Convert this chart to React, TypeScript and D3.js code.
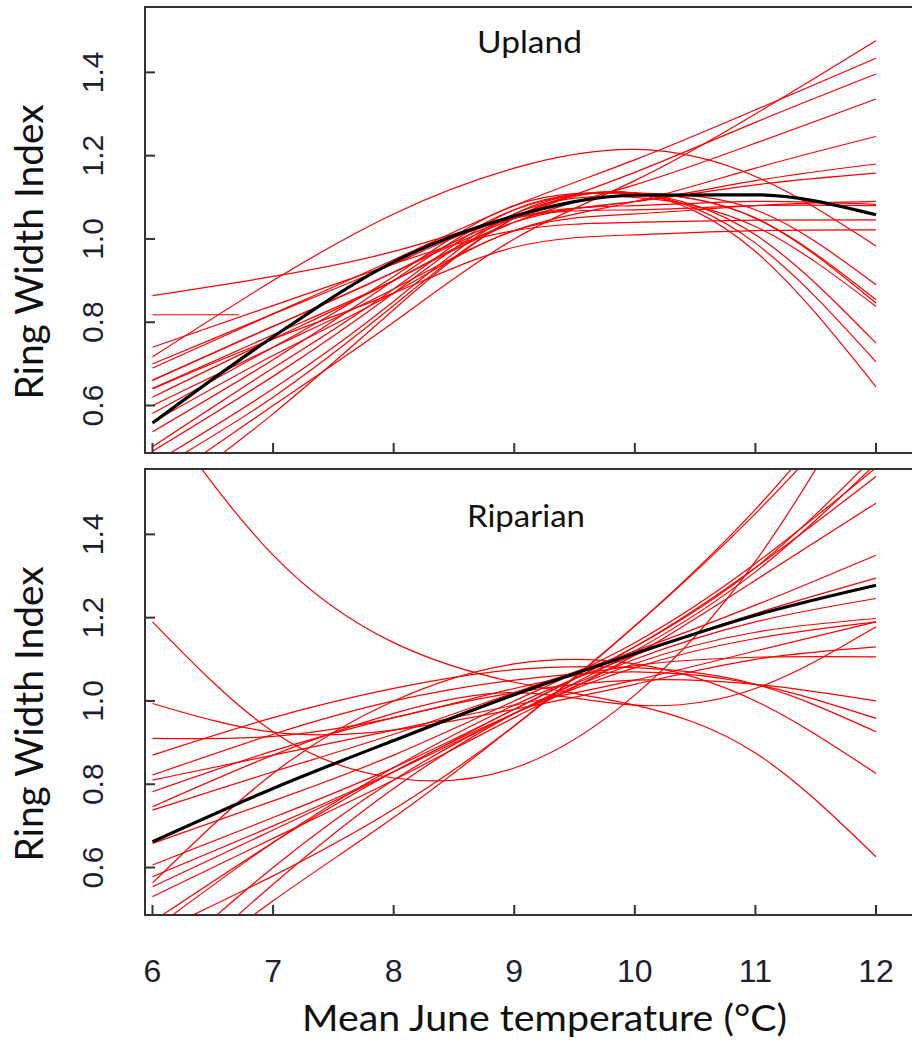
import React from 'react';
import * as d3 from 'd3';

// ---- data ----
const temps = [6, 7, 8, 9, 10, 11, 12];
const xTicks = [6, 7, 8, 9, 10, 11, 12];
const yTicks = [0.6, 0.8, 1.0, 1.2, 1.4];
const yTickLabels = ['0.6', '0.8', '1.0', '1.2', '1.4'];

// Upland individual tree response curves (values at 6..12 °C)
const uplandTrees: number[][] = [
  [0.40, 0.60, 0.80, 1.00, 1.14, 1.30, 1.476],
  [0.69, 0.82, 0.95, 1.08, 1.19, 1.31, 1.434],
  [0.661, 0.79, 0.92, 1.05, 1.16, 1.28, 1.396],
  [0.641, 0.77, 0.90, 1.04, 1.13, 1.23, 1.336],
  [0.60, 0.74, 0.88, 1.02, 1.09, 1.17, 1.246],
  [0.717, 0.90, 1.06, 1.17, 1.215, 1.15, 0.983],
  [0.864, 0.91, 0.97, 1.05, 1.09, 1.14, 1.18],
  [0.62, 0.76, 0.90, 1.04, 1.09, 1.13, 1.158],
  [0.56, 0.72, 0.87, 1.02, 1.06, 1.08, 1.09],
  [0.66, 0.79, 0.92, 1.05, 1.08, 1.09, 1.083],
  [0.70, 0.82, 0.94, 1.05, 1.07, 1.08, 1.08],
  [0.74, 0.84, 0.94, 1.02, 1.04, 1.045, 1.046],
  [0.64, 0.76, 0.87, 0.98, 1.01, 1.02, 1.022],
  [0.36, 0.58, 0.83, 1.05, 1.11, 0.97, 0.645],
  [0.44, 0.62, 0.84, 1.05, 1.11, 0.99, 0.705],
  [0.46, 0.64, 0.85, 1.06, 1.11, 1.01, 0.75],
  [0.49, 0.67, 0.87, 1.06, 1.10, 1.03, 0.838],
  [0.501, 0.69, 0.88, 1.07, 1.11, 1.05, 0.846],
  [0.537, 0.71, 0.90, 1.07, 1.11, 1.05, 0.854],
  [0.581, 0.74, 0.91, 1.08, 1.11, 1.07, 0.89],
];
const uplandSegmentTemps = [6, 6.72];
const uplandSegment = [0.818, 0.818];
const uplandMean = [0.558, 0.765, 0.945, 1.055, 1.105, 1.106, 1.058];

// Riparian individual tree response curves (values at 6..12 °C)
const riparianTrees: number[][] = [
  [1.72, 1.35, 1.14, 1.045, 0.99, 0.875, 0.626],
  [1.19, 0.926, 0.815, 0.839, 1.014, 1.335, 1.80],
  [0.91, 0.915, 0.96, 1.03, 1.085, 1.105, 1.106],
  [0.994, 0.925, 0.93, 0.98, 1.04, 1.10, 1.13],
  [0.563, 0.826, 1.0, 1.089, 1.089, 1.0, 0.826],
  [0.87, 0.96, 1.03, 1.075, 1.08, 1.04, 0.926],
  [0.822, 0.92, 1.00, 1.05, 1.07, 1.04, 0.958],
  [0.782, 0.88, 0.96, 1.02, 1.05, 1.04, 1.0],
  [0.746, 0.87, 0.97, 1.02, 0.99, 1.03, 1.178],
  [0.44, 0.58, 0.74, 0.94, 1.18, 1.46, 1.80],
  [0.30, 0.52, 0.72, 0.94, 1.18, 1.45, 1.76],
  [0.606, 0.72, 0.84, 0.98, 1.13, 1.32, 1.59],
  [0.578, 0.70, 0.83, 0.97, 1.12, 1.31, 1.57],
  [0.658, 0.76, 0.87, 1.0, 1.14, 1.33, 1.56],
  [0.554, 0.69, 0.83, 0.98, 1.13, 1.32, 1.539],
  [0.53, 0.67, 0.81, 0.96, 1.11, 1.29, 1.475],
  [0.738, 0.83, 0.92, 1.02, 1.12, 1.23, 1.35],
  [0.45, 0.66, 0.84, 0.99, 1.11, 1.21, 1.295],
  [0.30, 0.56, 0.79, 0.97, 1.10, 1.19, 1.246],
  [0.35, 0.60, 0.81, 0.97, 1.09, 1.165, 1.198],
  [0.47, 0.66, 0.83, 0.97, 1.08, 1.15, 1.19],
  [0.81, 0.87, 0.93, 0.99, 1.05, 1.12, 1.19],
];
const riparianMean = [0.662, 0.79, 0.905, 1.015, 1.114, 1.206, 1.278];

// ---- layout ----
const W = 912;
const H = 1044;
const plotLeft = 145;
const plotRight = 960;
const yDomain: [number, number] = [0.486, 1.557];
const x = d3.scaleLinear().domain([6, 12]).range([152.5, 876]);

const tickFont = '"Liberation Sans", Arial, sans-serif';
const titleFont = 'Lato, "Open Sans", sans-serif';

type PanelProps = {
  id: string;
  top: number;
  bottom: number;
  trees: number[][];
  mean: number[];
  title: string;
  titleX: number;
  titleY: number;
  titleLen: number;
  segX?: number[];
  segY?: number[];
};

function Panel(p: PanelProps) {
  const y = d3.scaleLinear().domain(yDomain).range([p.bottom, p.top]);
  const redLine = d3
    .line<[number, number]>()
    .x((d) => x(d[0]))
    .y((d) => y(d[1]))
    .curve(d3.curveNatural);
  const meanLine = d3
    .line<[number, number]>()
    .x((d) => x(d[0]))
    .y((d) => y(d[1]))
    .curve(d3.curveMonotoneX);
  const straight = d3
    .line<[number, number]>()
    .x((d) => x(d[0]))
    .y((d) => y(d[1]));
  const clipId = `clip-${p.id}`;
  const midY = (p.top + p.bottom) / 2;
  return (
    <g>
      <defs>
        <clipPath id={clipId}>
          <rect x={plotLeft + 1} y={p.top + 1} width={plotRight - plotLeft} height={p.bottom - p.top - 2} />
        </clipPath>
      </defs>
      <g clipPath={`url(#${clipId})`}>
        {p.trees.map((vals, i) => (
          <path
            key={i}
            d={redLine(temps.map((t, j) => [t, vals[j]] as [number, number])) || ''}
            fill="none"
            stroke="#ff0000"
            strokeWidth={1.2}
          />
        ))}
        {p.segX && p.segY ? (
          <path
            d={straight(p.segX.map((t, j) => [t, p.segY![j]] as [number, number])) || ''}
            fill="none"
            stroke="#ff0000"
            strokeWidth={1.2}
          />
        ) : null}
        <path
          d={meanLine(temps.map((t, j) => [t, p.mean[j]] as [number, number])) || ''}
          fill="none"
          stroke="#000"
          strokeWidth={3.2}
          strokeLinejoin="round"
        />
      </g>
      <rect
        x={plotLeft}
        y={p.top}
        width={plotRight - plotLeft}
        height={p.bottom - p.top}
        fill="none"
        stroke="#333"
        strokeWidth={2}
      />
      {yTicks.map((t, i) => (
        <g key={`yt${i}`}>
          <line x1={plotLeft} x2={plotLeft + 10} y1={y(t)} y2={y(t)} stroke="#333" strokeWidth={2} />
          <text
            transform={`translate(103,${y(t)}) rotate(-90)`}
            textAnchor="middle"
            fontFamily={tickFont}
            fontSize={30}
            fill="#1e1e30"
          >
            {yTickLabels[i]}
          </text>
        </g>
      ))}
      {xTicks.map((t, i) => (
        <line key={`xt${i}`} x1={x(t)} x2={x(t)} y1={p.bottom} y2={p.bottom - 10} stroke="#333" strokeWidth={2} />
      ))}
      <text
        x={p.titleX}
        y={p.titleY}
        fontFamily={titleFont}
        fontSize={31}
        fill="#111"
        textLength={p.titleLen}
        lengthAdjust="spacingAndGlyphs"
      >
        {p.title}
      </text>
      <text
        transform={`translate(43,${midY + 22}) rotate(-90)`}
        textAnchor="middle"
        fontFamily={titleFont}
        fontSize={39}
        fill="#111"
        textLength={295}
        lengthAdjust="spacingAndGlyphs"
      >
        Ring Width Index
      </text>
    </g>
  );
}

export default function App() {
  return (
    <svg
      width={W}
      height={H}
      viewBox={`0 0 ${W} ${H}`}
      style={{ position: 'absolute', left: 0, top: 0, background: '#fff' }}
    >
      <rect x={0} y={0} width={W} height={H} fill="#fff" />
      <Panel
        id="upland"
        top={7}
        bottom={453}
        trees={uplandTrees}
        mean={uplandMean}
        title="Upland"
        titleX={477}
        titleY={53}
        titleLen={105}
        segX={uplandSegmentTemps}
        segY={uplandSegment}
      />
      <Panel
        id="riparian"
        top={469}
        bottom={915}
        trees={riparianTrees}
        mean={riparianMean}
        title="Riparian"
        titleX={467}
        titleY={527}
        titleLen={118}
      />
      {xTicks.map((t) => (
        <text
          key={`xl${t}`}
          x={x(t)}
          y={982}
          textAnchor="middle"
          fontFamily={tickFont}
          fontSize={32}
          fill="#1e1e30"
        >
          {t}
        </text>
      ))}
      <text
        x={302}
        y={1031}
        fontFamily={titleFont}
        fontSize={37}
        fill="#111"
        textLength={485}
        lengthAdjust="spacingAndGlyphs"
      >
        Mean June temperature (°C)
      </text>
    </svg>
  );
}
